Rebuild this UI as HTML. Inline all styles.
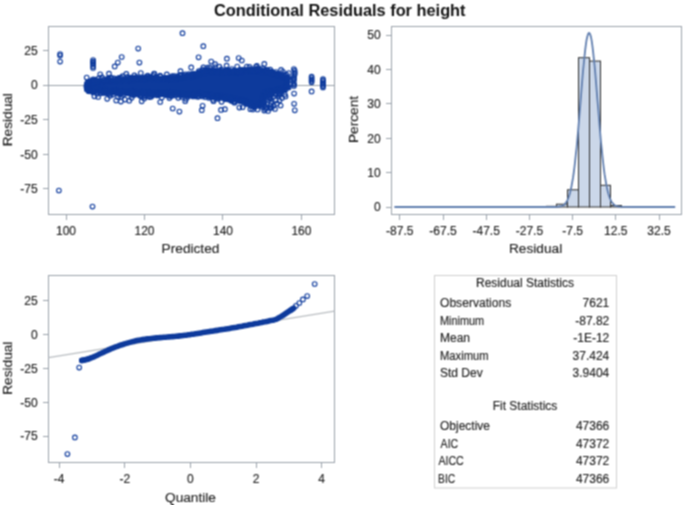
<!DOCTYPE html>
<html lang="en"><head><meta charset="utf-8"><title>Conditional Residuals for height</title>
<style>html,body{margin:0;padding:0;background:#fff}svg{display:block}text{stroke:#1c1c1c;stroke-width:.15px}</style></head>
<body>
<svg width="685" height="505" viewBox="0 0 685 505" font-family="'Liberation Sans', Arial, sans-serif" font-size="12" fill="#1c1c1c">
<defs><filter id="soft" x="0" y="0" width="685" height="505" filterUnits="userSpaceOnUse" color-interpolation-filters="sRGB"><feConvolveMatrix order="3" kernelMatrix="1 2 1 2 4 2 1 2 1" divisor="16" edgeMode="duplicate" preserveAlpha="true"/></filter></defs>
<g filter="url(#soft)">
<rect width="685" height="505" fill="#fff"/>
<text x="339.8" y="15.7" text-anchor="middle" font-size="16.35" font-weight="bold" fill="#111" style="stroke:none">Conditional Residuals for height</text>
<rect x="48.5" y="26.5" width="286.0" height="188.0" fill="#fff" stroke="#99a1aa" stroke-width="1"/>
<path d="M48.5 85.5H334.5" stroke="#99a1aa"/>
<text x="37.6" y="54.7" text-anchor="end">25</text>
<text x="37.6" y="89.3" text-anchor="end">0</text>
<text x="37.6" y="123.9" text-anchor="end">-25</text>
<text x="37.6" y="158.6" text-anchor="end">-50</text>
<text x="37.6" y="193.2" text-anchor="end">-75</text>
<path d="M48.5 50.5h-5.5M48.5 85.5h-5.5M48.5 119.5h-5.5M48.5 154.5h-5.5M48.5 188.5h-5.5" stroke="#99a1aa" fill="none"/>
<text x="66" y="234.7" text-anchor="middle">100</text>
<text x="144.5" y="234.7" text-anchor="middle">120</text>
<text x="223" y="234.7" text-anchor="middle">140</text>
<text x="301.4" y="234.7" text-anchor="middle">160</text>
<path d="M66.5 214.5v5.5M144.5 214.5v5.5M222.5 214.5v5.5M301.5 214.5v5.5" stroke="#99a1aa" fill="none"/>
<text transform="translate(11.5 119.7) rotate(-90)" text-anchor="middle" font-size="13.7" textLength="53.2" lengthAdjust="spacingAndGlyphs">Residual</text>
<text x="190.5" y="253.4" text-anchor="middle" font-size="13.7">Predicted</text>
<path d="M86.5 85.3 87.5 82.7 91 81.7 110 80.2 130 79.2 150 77.7 170 78.2 190 76.2 200 72.7 207 71.2 220 71.2 240 71.2 250 70.2 260 70.2 270 72.2 280 74.7 286 77.2 288 78 288 85.5 284 89 276 91 268 93 264 97 262.5 103 260 105.8 250 103.8 240 100.8 220 96.8 207 95.8 200 94.8 190 94.8 170 93.8 150 93.8 130 92.8 110 91.8 91 90.8 87.5 90.3 86.5 88.7Z" fill="#0d3a9c" stroke="#0d3a9c" stroke-width="2" stroke-linejoin="round"/>
<g fill="#0d3a9c" stroke="#0d3a9c" stroke-width="1.15">
<circle cx="87.9" cy="85.2" r="2.5"/>
<circle cx="87.7" cy="84" r="2.5"/>
<circle cx="87.7" cy="83.5" r="2.5"/>
<circle cx="87.5" cy="82.8" r="2.5"/>
<circle cx="89.3" cy="83.1" r="2.5"/>
<circle cx="89.8" cy="83.3" r="2.5"/>
<circle cx="90.5" cy="82.4" r="2.5"/>
<circle cx="91.6" cy="82.5" r="2.5"/>
<circle cx="93.1" cy="82.6" r="2.5"/>
<circle cx="93.6" cy="81.7" r="2.5"/>
<circle cx="94.3" cy="82.8" r="2.5"/>
<circle cx="95.7" cy="82.6" r="2.5"/>
<circle cx="96.1" cy="82.7" r="2.5"/>
<circle cx="97.5" cy="82.2" r="2.5"/>
<circle cx="98.7" cy="82.6" r="2.5"/>
<circle cx="99.6" cy="82.1" r="2.5"/>
<circle cx="100.2" cy="81.7" r="2.5"/>
<circle cx="101.3" cy="81.6" r="2.5"/>
<circle cx="102.1" cy="81.5" r="2.5"/>
<circle cx="103.3" cy="82.2" r="2.5"/>
<circle cx="105" cy="82.1" r="2.5"/>
<circle cx="106" cy="82" r="2.5"/>
<circle cx="106.7" cy="80.4" r="2.5"/>
<circle cx="107.7" cy="81.9" r="2.5"/>
<circle cx="108.8" cy="79.7" r="2.5"/>
<circle cx="109.6" cy="80.5" r="2.5"/>
<circle cx="110.4" cy="81.1" r="2.5"/>
<circle cx="111.2" cy="81" r="2.5"/>
<circle cx="112.4" cy="80.9" r="2.5"/>
<circle cx="113.6" cy="80.9" r="2.5"/>
<circle cx="114.7" cy="81.1" r="2.5"/>
<circle cx="115.2" cy="80.2" r="2.5"/>
<circle cx="116.3" cy="81.3" r="2.5"/>
<circle cx="117.1" cy="80.2" r="2.5"/>
<circle cx="118.3" cy="80.5" r="2.5"/>
<circle cx="119.3" cy="79.1" r="2.5"/>
<circle cx="120.7" cy="81.2" r="2.5"/>
<circle cx="121.9" cy="80.4" r="2.5"/>
<circle cx="123" cy="80.7" r="2.5"/>
<circle cx="123.1" cy="79.5" r="2.5"/>
<circle cx="125" cy="80.7" r="2.5"/>
<circle cx="125.3" cy="80.9" r="2.5"/>
<circle cx="126.7" cy="79.7" r="2.5"/>
<circle cx="127.4" cy="80.4" r="2.5"/>
<circle cx="128.3" cy="80.2" r="2.5"/>
<circle cx="129.9" cy="80.1" r="2.5"/>
<circle cx="130.6" cy="79.6" r="2.5"/>
<circle cx="131.8" cy="80" r="2.5"/>
<circle cx="132.5" cy="80.2" r="2.5"/>
<circle cx="133.1" cy="78.3" r="2.5"/>
<circle cx="134.7" cy="79.5" r="2.5"/>
<circle cx="135.5" cy="77.9" r="2.5"/>
<circle cx="136.4" cy="79.6" r="2.5"/>
<circle cx="137.8" cy="79.7" r="2.5"/>
<circle cx="138.6" cy="79.9" r="2.5"/>
<circle cx="140" cy="79.5" r="2.5"/>
<circle cx="141" cy="79.9" r="2.5"/>
<circle cx="141.8" cy="78.8" r="2.5"/>
<circle cx="142.2" cy="78.9" r="2.5"/>
<circle cx="143.9" cy="79.5" r="2.5"/>
<circle cx="144.7" cy="79.1" r="2.5"/>
<circle cx="145.5" cy="77.4" r="2.5"/>
<circle cx="146.3" cy="79.2" r="2.5"/>
<circle cx="147.4" cy="78.6" r="2.5"/>
<circle cx="148.4" cy="78.6" r="2.5"/>
<circle cx="149.6" cy="78.5" r="2.5"/>
<circle cx="150.3" cy="77.6" r="2.5"/>
<circle cx="151.4" cy="77.8" r="2.5"/>
<circle cx="152.5" cy="79.1" r="2.5"/>
<circle cx="153.9" cy="78.3" r="2.5"/>
<circle cx="154.6" cy="78.8" r="2.5"/>
<circle cx="155.9" cy="78.6" r="2.5"/>
<circle cx="156.9" cy="78.1" r="2.5"/>
<circle cx="157.4" cy="79.3" r="2.5"/>
<circle cx="158.9" cy="79.5" r="2.5"/>
<circle cx="159.8" cy="79.2" r="2.5"/>
<circle cx="160.7" cy="79.6" r="2.5"/>
<circle cx="161.3" cy="79.3" r="2.5"/>
<circle cx="162.2" cy="78.7" r="2.5"/>
<circle cx="163.2" cy="78.9" r="2.5"/>
<circle cx="164.8" cy="79.3" r="2.5"/>
<circle cx="165.5" cy="78.1" r="2.5"/>
<circle cx="166.6" cy="79" r="2.5"/>
<circle cx="167.9" cy="78.9" r="2.5"/>
<circle cx="168.6" cy="79.7" r="2.5"/>
<circle cx="169.2" cy="79.3" r="2.5"/>
<circle cx="170.6" cy="79.6" r="2.5"/>
<circle cx="171.8" cy="78.3" r="2.5"/>
<circle cx="172.2" cy="79" r="2.5"/>
<circle cx="174" cy="79.4" r="2.5"/>
<circle cx="174.6" cy="78.8" r="2.5"/>
<circle cx="175.2" cy="79" r="2.5"/>
<circle cx="176.2" cy="79.2" r="2.5"/>
<circle cx="177.3" cy="78.3" r="2.5"/>
<circle cx="178.7" cy="78.3" r="2.5"/>
<circle cx="179.6" cy="77.8" r="2.5"/>
<circle cx="180.8" cy="78.6" r="2.5"/>
<circle cx="181.4" cy="77.8" r="2.5"/>
<circle cx="182.6" cy="77.5" r="2.5"/>
<circle cx="183.7" cy="76.8" r="2.5"/>
<circle cx="184.3" cy="77.4" r="2.5"/>
<circle cx="185.1" cy="77.3" r="2.5"/>
<circle cx="187" cy="76.5" r="2.5"/>
<circle cx="187" cy="76.2" r="2.5"/>
<circle cx="188.4" cy="76.8" r="2.5"/>
<circle cx="189.7" cy="76.9" r="2.5"/>
<circle cx="190" cy="75.4" r="2.5"/>
<circle cx="192.1" cy="77.1" r="2.5"/>
<circle cx="193" cy="76.8" r="2.5"/>
<circle cx="192.9" cy="75.1" r="2.5"/>
<circle cx="194.4" cy="75.2" r="2.5"/>
<circle cx="195" cy="75.6" r="2.5"/>
<circle cx="196.4" cy="75.2" r="2.5"/>
<circle cx="197.4" cy="74.5" r="2.5"/>
<circle cx="198.1" cy="74" r="2.5"/>
<circle cx="199.2" cy="73.7" r="2.5"/>
<circle cx="199.5" cy="74.2" r="2.5"/>
<circle cx="200.2" cy="72.7" r="2.5"/>
<circle cx="202.3" cy="73.8" r="2.5"/>
<circle cx="202.3" cy="72.2" r="2.5"/>
<circle cx="203.8" cy="72.7" r="2.5"/>
<circle cx="204.7" cy="73.2" r="2.5"/>
<circle cx="205.7" cy="71.8" r="2.5"/>
<circle cx="206.2" cy="70.5" r="2.5"/>
<circle cx="207.5" cy="70.6" r="2.5"/>
<circle cx="208.2" cy="72" r="2.5"/>
<circle cx="209.5" cy="71.3" r="2.5"/>
<circle cx="210.8" cy="71.5" r="2.5"/>
<circle cx="211.3" cy="71.6" r="2.5"/>
<circle cx="212.8" cy="72.7" r="2.5"/>
<circle cx="213.1" cy="72.8" r="2.5"/>
<circle cx="214.1" cy="72.2" r="2.5"/>
<circle cx="215.3" cy="71.7" r="2.5"/>
<circle cx="216.8" cy="72" r="2.5"/>
<circle cx="217.2" cy="71.4" r="2.5"/>
<circle cx="218.9" cy="72.8" r="2.5"/>
<circle cx="219.7" cy="70.9" r="2.5"/>
<circle cx="220.7" cy="72.3" r="2.5"/>
<circle cx="221.8" cy="72.4" r="2.5"/>
<circle cx="222.4" cy="72.5" r="2.5"/>
<circle cx="223.5" cy="72.7" r="2.5"/>
<circle cx="224.2" cy="72.5" r="2.5"/>
<circle cx="225.5" cy="71.5" r="2.5"/>
<circle cx="226.9" cy="72.8" r="2.5"/>
<circle cx="227.2" cy="72.2" r="2.5"/>
<circle cx="228.6" cy="70.8" r="2.5"/>
<circle cx="230" cy="71.7" r="2.5"/>
<circle cx="230.8" cy="72.1" r="2.5"/>
<circle cx="231.4" cy="72.6" r="2.5"/>
<circle cx="232.2" cy="72.6" r="2.5"/>
<circle cx="233.8" cy="71.1" r="2.5"/>
<circle cx="234.4" cy="72.7" r="2.5"/>
<circle cx="235.4" cy="72.1" r="2.5"/>
<circle cx="236.8" cy="72.2" r="2.5"/>
<circle cx="237.4" cy="72.4" r="2.5"/>
<circle cx="238.7" cy="72.7" r="2.5"/>
<circle cx="239.8" cy="72.4" r="2.5"/>
<circle cx="240.5" cy="72.5" r="2.5"/>
<circle cx="241.7" cy="70.9" r="2.5"/>
<circle cx="242.2" cy="71.6" r="2.5"/>
<circle cx="243.9" cy="71.6" r="2.5"/>
<circle cx="244.1" cy="70.9" r="2.5"/>
<circle cx="246.1" cy="71.9" r="2.5"/>
<circle cx="246.7" cy="71.9" r="2.5"/>
<circle cx="247.8" cy="70.9" r="2.5"/>
<circle cx="248.9" cy="69.7" r="2.5"/>
<circle cx="249.9" cy="71.6" r="2.5"/>
<circle cx="250.5" cy="71.4" r="2.5"/>
<circle cx="251.3" cy="70.6" r="2.5"/>
<circle cx="252.7" cy="70.8" r="2.5"/>
<circle cx="253.1" cy="70.1" r="2.5"/>
<circle cx="254.9" cy="71.2" r="2.5"/>
<circle cx="255.2" cy="71.6" r="2.5"/>
<circle cx="256.2" cy="70.3" r="2.5"/>
<circle cx="257.5" cy="70.2" r="2.5"/>
<circle cx="258.2" cy="70.8" r="2.5"/>
<circle cx="259.5" cy="71.2" r="2.5"/>
<circle cx="260.4" cy="71.7" r="2.5"/>
<circle cx="261.3" cy="71.8" r="2.5"/>
<circle cx="262.2" cy="72.2" r="2.5"/>
<circle cx="263.2" cy="72.4" r="2.5"/>
<circle cx="264.9" cy="70.7" r="2.5"/>
<circle cx="264.9" cy="72.7" r="2.5"/>
<circle cx="265.9" cy="72.6" r="2.5"/>
<circle cx="267.9" cy="71.8" r="2.5"/>
<circle cx="268.8" cy="72.8" r="2.5"/>
<circle cx="269.6" cy="71.8" r="2.5"/>
<circle cx="270.7" cy="73.3" r="2.5"/>
<circle cx="271.5" cy="71.7" r="2.5"/>
<circle cx="271.9" cy="73.4" r="2.5"/>
<circle cx="273.1" cy="74.6" r="2.5"/>
<circle cx="274.7" cy="73.7" r="2.5"/>
<circle cx="275.7" cy="74" r="2.5"/>
<circle cx="276.7" cy="74.3" r="2.5"/>
<circle cx="277.5" cy="75.2" r="2.5"/>
<circle cx="277.8" cy="75.7" r="2.5"/>
<circle cx="278.9" cy="75.7" r="2.5"/>
<circle cx="280.6" cy="75" r="2.5"/>
<circle cx="281.4" cy="76.8" r="2.5"/>
<circle cx="282.3" cy="76.2" r="2.5"/>
<circle cx="283.7" cy="77" r="2.5"/>
<circle cx="284.4" cy="77.8" r="2.5"/>
<circle cx="285.6" cy="77.5" r="2.5"/>
<circle cx="286.5" cy="77.7" r="2.5"/>
<circle cx="287.2" cy="78.4" r="2.5"/>
<circle cx="287.8" cy="86.4" r="2.5"/>
<circle cx="286.3" cy="85.7" r="2.5"/>
<circle cx="285.5" cy="86.2" r="2.5"/>
<circle cx="284.7" cy="87.9" r="2.5"/>
<circle cx="283.3" cy="87.8" r="2.5"/>
<circle cx="282.8" cy="88.4" r="2.5"/>
<circle cx="282.6" cy="89.6" r="2.5"/>
<circle cx="281.4" cy="89.1" r="2.5"/>
<circle cx="280.8" cy="89.4" r="2.5"/>
<circle cx="279.3" cy="89.7" r="2.5"/>
<circle cx="278.7" cy="89.2" r="2.5"/>
<circle cx="277.1" cy="89.7" r="2.5"/>
<circle cx="276.6" cy="89.5" r="2.5"/>
<circle cx="275.7" cy="90.9" r="2.5"/>
<circle cx="274" cy="90.9" r="2.5"/>
<circle cx="273.2" cy="90.1" r="2.5"/>
<circle cx="272.2" cy="91.4" r="2.5"/>
<circle cx="270.9" cy="91.2" r="2.5"/>
<circle cx="270.2" cy="91.7" r="2.5"/>
<circle cx="269" cy="91.4" r="2.5"/>
<circle cx="268.4" cy="91.9" r="2.5"/>
<circle cx="267.1" cy="92.6" r="2.5"/>
<circle cx="266.8" cy="93.6" r="2.5"/>
<circle cx="265.1" cy="93.7" r="2.5"/>
<circle cx="265.3" cy="94.8" r="2.5"/>
<circle cx="265.3" cy="96.1" r="2.5"/>
<circle cx="263.9" cy="96.6" r="2.5"/>
<circle cx="262.3" cy="97.3" r="2.5"/>
<circle cx="263.6" cy="98.9" r="2.5"/>
<circle cx="262.6" cy="99.4" r="2.5"/>
<circle cx="261.9" cy="100.4" r="2.5"/>
<circle cx="262.1" cy="101.2" r="2.5"/>
<circle cx="261.9" cy="102.1" r="2.5"/>
<circle cx="261.8" cy="102.9" r="2.5"/>
<circle cx="261.9" cy="104.3" r="2.5"/>
<circle cx="260" cy="104" r="2.5"/>
<circle cx="258.9" cy="104.7" r="2.5"/>
<circle cx="260" cy="104.2" r="2.5"/>
<circle cx="258.6" cy="105.1" r="2.5"/>
<circle cx="258" cy="104.9" r="2.5"/>
<circle cx="257" cy="104.4" r="2.5"/>
<circle cx="255.3" cy="104.3" r="2.5"/>
<circle cx="254.8" cy="103.5" r="2.5"/>
<circle cx="253.2" cy="106" r="2.5"/>
<circle cx="252.5" cy="103.9" r="2.5"/>
<circle cx="251.8" cy="103.7" r="2.5"/>
<circle cx="250.2" cy="103.9" r="2.5"/>
<circle cx="249.3" cy="103.5" r="2.5"/>
<circle cx="248.9" cy="102.3" r="2.5"/>
<circle cx="247.2" cy="103.5" r="2.5"/>
<circle cx="246.8" cy="101.2" r="2.5"/>
<circle cx="245.8" cy="101" r="2.5"/>
<circle cx="245" cy="100.7" r="2.5"/>
<circle cx="243.4" cy="101.6" r="2.5"/>
<circle cx="242.5" cy="100" r="2.5"/>
<circle cx="242.1" cy="99.8" r="2.5"/>
<circle cx="241.2" cy="100.3" r="2.5"/>
<circle cx="239.3" cy="100.2" r="2.5"/>
<circle cx="239.1" cy="99.1" r="2.5"/>
<circle cx="238" cy="99" r="2.5"/>
<circle cx="236.6" cy="99.6" r="2.5"/>
<circle cx="235.5" cy="98.9" r="2.5"/>
<circle cx="234.5" cy="98.1" r="2.5"/>
<circle cx="234" cy="98" r="2.5"/>
<circle cx="232.7" cy="98.4" r="2.5"/>
<circle cx="231.7" cy="99.8" r="2.5"/>
<circle cx="230.6" cy="97.5" r="2.5"/>
<circle cx="230.1" cy="97.7" r="2.5"/>
<circle cx="228.8" cy="98" r="2.5"/>
<circle cx="228.2" cy="97.4" r="2.5"/>
<circle cx="226.9" cy="97.9" r="2.5"/>
<circle cx="226.3" cy="96.6" r="2.5"/>
<circle cx="224.9" cy="96.7" r="2.5"/>
<circle cx="223.8" cy="97.8" r="2.5"/>
<circle cx="222.9" cy="96" r="2.5"/>
<circle cx="221.4" cy="95.9" r="2.5"/>
<circle cx="220.3" cy="95.5" r="2.5"/>
<circle cx="219.4" cy="95.6" r="2.5"/>
<circle cx="218.3" cy="96.7" r="2.5"/>
<circle cx="217.3" cy="96.3" r="2.5"/>
<circle cx="216.1" cy="95.2" r="2.5"/>
<circle cx="215.9" cy="95.9" r="2.5"/>
<circle cx="214.9" cy="97.6" r="2.5"/>
<circle cx="213.1" cy="96.3" r="2.5"/>
<circle cx="212.5" cy="95.3" r="2.5"/>
<circle cx="211.4" cy="94.9" r="2.5"/>
<circle cx="210" cy="96.4" r="2.5"/>
<circle cx="209.8" cy="94.5" r="2.5"/>
<circle cx="209" cy="95.7" r="2.5"/>
<circle cx="207.4" cy="94.7" r="2.5"/>
<circle cx="206.4" cy="94.2" r="2.5"/>
<circle cx="205.8" cy="94.9" r="2.5"/>
<circle cx="205" cy="94.7" r="2.5"/>
<circle cx="203.8" cy="94.9" r="2.5"/>
<circle cx="202.3" cy="93.8" r="2.5"/>
<circle cx="201.2" cy="94.5" r="2.5"/>
<circle cx="200.3" cy="93.9" r="2.5"/>
<circle cx="200" cy="93.5" r="2.5"/>
<circle cx="198.8" cy="93.6" r="2.5"/>
<circle cx="197.2" cy="94.2" r="2.5"/>
<circle cx="196.8" cy="93.6" r="2.5"/>
<circle cx="195.1" cy="93.6" r="2.5"/>
<circle cx="194.3" cy="93.2" r="2.5"/>
<circle cx="193.2" cy="96.2" r="2.5"/>
<circle cx="192.5" cy="93.8" r="2.5"/>
<circle cx="191.4" cy="95.1" r="2.5"/>
<circle cx="190.9" cy="93.5" r="2.5"/>
<circle cx="189.3" cy="94" r="2.5"/>
<circle cx="188.8" cy="93.2" r="2.5"/>
<circle cx="187.5" cy="95.2" r="2.5"/>
<circle cx="186.8" cy="93.1" r="2.5"/>
<circle cx="185.4" cy="94.4" r="2.5"/>
<circle cx="184.6" cy="94.5" r="2.5"/>
<circle cx="183.4" cy="93.1" r="2.5"/>
<circle cx="183" cy="93.7" r="2.5"/>
<circle cx="181.3" cy="94.4" r="2.5"/>
<circle cx="180.3" cy="93.1" r="2.5"/>
<circle cx="179.5" cy="94.4" r="2.5"/>
<circle cx="178.6" cy="93.2" r="2.5"/>
<circle cx="177.7" cy="93.1" r="2.5"/>
<circle cx="176.8" cy="92.8" r="2.5"/>
<circle cx="175.9" cy="93.5" r="2.5"/>
<circle cx="174.6" cy="92.7" r="2.5"/>
<circle cx="173.3" cy="93.1" r="2.5"/>
<circle cx="172.8" cy="93.4" r="2.5"/>
<circle cx="171.6" cy="92.7" r="2.5"/>
<circle cx="170.9" cy="92.5" r="2.5"/>
<circle cx="169.5" cy="92.9" r="2.5"/>
<circle cx="168.9" cy="93.5" r="2.5"/>
<circle cx="167.1" cy="94.4" r="2.5"/>
<circle cx="167" cy="92.4" r="2.5"/>
<circle cx="165.6" cy="92.3" r="2.5"/>
<circle cx="164.9" cy="92.3" r="2.5"/>
<circle cx="163.2" cy="93.1" r="2.5"/>
<circle cx="162.5" cy="93.8" r="2.5"/>
<circle cx="161.7" cy="93" r="2.5"/>
<circle cx="160.6" cy="92.4" r="2.5"/>
<circle cx="159.9" cy="92.6" r="2.5"/>
<circle cx="158" cy="93.2" r="2.5"/>
<circle cx="157.4" cy="93.3" r="2.5"/>
<circle cx="156.4" cy="92.2" r="2.5"/>
<circle cx="155.4" cy="92.6" r="2.5"/>
<circle cx="154.4" cy="93" r="2.5"/>
<circle cx="153.4" cy="93.3" r="2.5"/>
<circle cx="152.8" cy="95" r="2.5"/>
<circle cx="151.2" cy="92.3" r="2.5"/>
<circle cx="150.5" cy="94.5" r="2.5"/>
<circle cx="149.7" cy="92.6" r="2.5"/>
<circle cx="148.7" cy="92.7" r="2.5"/>
<circle cx="147.4" cy="92.6" r="2.5"/>
<circle cx="146.9" cy="93.9" r="2.5"/>
<circle cx="145.1" cy="92.7" r="2.5"/>
<circle cx="144.8" cy="92.7" r="2.5"/>
<circle cx="143.2" cy="92.1" r="2.5"/>
<circle cx="143" cy="92.6" r="2.5"/>
<circle cx="141.8" cy="93.6" r="2.5"/>
<circle cx="140.1" cy="92.5" r="2.5"/>
<circle cx="139.9" cy="92.4" r="2.5"/>
<circle cx="138.4" cy="94.2" r="2.5"/>
<circle cx="137.6" cy="91.9" r="2.5"/>
<circle cx="136.6" cy="93.7" r="2.5"/>
<circle cx="135.2" cy="93.4" r="2.5"/>
<circle cx="134.2" cy="92.7" r="2.5"/>
<circle cx="133.3" cy="91.5" r="2.5"/>
<circle cx="132.2" cy="91.7" r="2.5"/>
<circle cx="131.6" cy="91.6" r="2.5"/>
<circle cx="130.6" cy="91.6" r="2.5"/>
<circle cx="129.9" cy="91.8" r="2.5"/>
<circle cx="128.9" cy="93" r="2.5"/>
<circle cx="127.8" cy="93.1" r="2.5"/>
<circle cx="126.7" cy="92.5" r="2.5"/>
<circle cx="125.8" cy="91.7" r="2.5"/>
<circle cx="124.7" cy="91" r="2.5"/>
<circle cx="123.8" cy="91.2" r="2.5"/>
<circle cx="122.3" cy="91.3" r="2.5"/>
<circle cx="121.1" cy="91.9" r="2.5"/>
<circle cx="120.6" cy="93.2" r="2.5"/>
<circle cx="119.8" cy="91" r="2.5"/>
<circle cx="118.6" cy="91.4" r="2.5"/>
<circle cx="117.1" cy="90.8" r="2.5"/>
<circle cx="116.4" cy="90.8" r="2.5"/>
<circle cx="115.9" cy="92.2" r="2.5"/>
<circle cx="114.4" cy="90.5" r="2.5"/>
<circle cx="113.1" cy="92" r="2.5"/>
<circle cx="113" cy="91.1" r="2.5"/>
<circle cx="111.1" cy="91" r="2.5"/>
<circle cx="110.1" cy="91.7" r="2.5"/>
<circle cx="110" cy="91" r="2.5"/>
<circle cx="108.6" cy="90.9" r="2.5"/>
<circle cx="107.3" cy="91.1" r="2.5"/>
<circle cx="106.1" cy="90.4" r="2.5"/>
<circle cx="105.2" cy="90.7" r="2.5"/>
<circle cx="104.3" cy="90.2" r="2.5"/>
<circle cx="103.1" cy="90.1" r="2.5"/>
<circle cx="102.6" cy="90.6" r="2.5"/>
<circle cx="101.1" cy="91.1" r="2.5"/>
<circle cx="100.1" cy="90.4" r="2.5"/>
<circle cx="99.7" cy="89.7" r="2.5"/>
<circle cx="98.6" cy="90.4" r="2.5"/>
<circle cx="97.7" cy="89.9" r="2.5"/>
<circle cx="96.9" cy="90.2" r="2.5"/>
<circle cx="95.3" cy="90.8" r="2.5"/>
<circle cx="94.4" cy="89.8" r="2.5"/>
<circle cx="93.8" cy="90.9" r="2.5"/>
<circle cx="92.8" cy="89.6" r="2.5"/>
<circle cx="91.2" cy="90.7" r="2.5"/>
<circle cx="90.9" cy="89.3" r="2.5"/>
<circle cx="89.9" cy="90.9" r="2.5"/>
<circle cx="88.9" cy="89" r="2.5"/>
<circle cx="88.3" cy="88.9" r="2.5"/>
<circle cx="88.3" cy="89.7" r="2.5"/>
<circle cx="88" cy="88.2" r="2.5"/>
</g>
<g fill="none" stroke="#0d3a9c" stroke-width="1.1">
<circle cx="86.7" cy="77.6" r="2.3"/>
<circle cx="90.1" cy="81.4" r="2.3"/>
<circle cx="92.1" cy="80.4" r="2.3"/>
<circle cx="94.4" cy="80.9" r="2.3"/>
<circle cx="94.8" cy="79.7" r="2.3"/>
<circle cx="97.9" cy="80.6" r="2.3"/>
<circle cx="98.7" cy="78.4" r="2.3"/>
<circle cx="101.3" cy="81.1" r="2.3"/>
<circle cx="102" cy="77.4" r="2.3"/>
<circle cx="104.2" cy="79.4" r="2.3"/>
<circle cx="105.4" cy="80.9" r="2.3"/>
<circle cx="106.5" cy="79.6" r="2.3"/>
<circle cx="108.2" cy="78.3" r="2.3"/>
<circle cx="110.5" cy="77.5" r="2.3"/>
<circle cx="111.8" cy="78.1" r="2.3"/>
<circle cx="114.3" cy="78.4" r="2.3"/>
<circle cx="116.8" cy="80" r="2.3"/>
<circle cx="117.7" cy="78.6" r="2.3"/>
<circle cx="120.7" cy="80" r="2.3"/>
<circle cx="121" cy="77.5" r="2.3"/>
<circle cx="122.6" cy="76.2" r="2.3"/>
<circle cx="124.6" cy="79.9" r="2.3"/>
<circle cx="127.4" cy="76.9" r="2.3"/>
<circle cx="128.4" cy="78" r="2.3"/>
<circle cx="130.5" cy="77.7" r="2.3"/>
<circle cx="131.9" cy="77.9" r="2.3"/>
<circle cx="134.9" cy="79" r="2.3"/>
<circle cx="136.5" cy="77.2" r="2.3"/>
<circle cx="137.7" cy="78.1" r="2.3"/>
<circle cx="140.8" cy="77.9" r="2.3"/>
<circle cx="142.1" cy="78.2" r="2.3"/>
<circle cx="142.8" cy="78.5" r="2.3"/>
<circle cx="144.7" cy="78.6" r="2.3"/>
<circle cx="147.5" cy="76.3" r="2.3"/>
<circle cx="149.5" cy="76.8" r="2.3"/>
<circle cx="150.3" cy="77.8" r="2.3"/>
<circle cx="153.4" cy="75.8" r="2.3"/>
<circle cx="154.2" cy="73.9" r="2.3"/>
<circle cx="156.2" cy="76.7" r="2.3"/>
<circle cx="158.2" cy="78.2" r="2.3"/>
<circle cx="160" cy="75.5" r="2.3"/>
<circle cx="162.2" cy="78.4" r="2.3"/>
<circle cx="164.3" cy="78.1" r="2.3"/>
<circle cx="165.1" cy="78" r="2.3"/>
<circle cx="168.1" cy="78.6" r="2.3"/>
<circle cx="168.4" cy="77.5" r="2.3"/>
<circle cx="171.7" cy="76.5" r="2.3"/>
<circle cx="171.9" cy="78.2" r="2.3"/>
<circle cx="174.4" cy="76" r="2.3"/>
<circle cx="177.1" cy="76.4" r="2.3"/>
<circle cx="177.5" cy="77.3" r="2.3"/>
<circle cx="179.6" cy="75.1" r="2.3"/>
<circle cx="181.8" cy="74.9" r="2.3"/>
<circle cx="183.6" cy="74.9" r="2.3"/>
<circle cx="186.1" cy="76.9" r="2.3"/>
<circle cx="187.6" cy="76.1" r="2.3"/>
<circle cx="188.8" cy="74.2" r="2.3"/>
<circle cx="190.8" cy="75.5" r="2.3"/>
<circle cx="192.1" cy="74.5" r="2.3"/>
<circle cx="193.6" cy="75.4" r="2.3"/>
<circle cx="194.8" cy="73.9" r="2.3"/>
<circle cx="197.4" cy="74.1" r="2.3"/>
<circle cx="198.7" cy="72.7" r="2.3"/>
<circle cx="200.3" cy="72.7" r="2.3"/>
<circle cx="203" cy="69.9" r="2.3"/>
<circle cx="203.4" cy="67.4" r="2.3"/>
<circle cx="205.5" cy="70.2" r="2.3"/>
<circle cx="207.5" cy="67.6" r="2.3"/>
<circle cx="209.5" cy="67.4" r="2.3"/>
<circle cx="212.4" cy="70.2" r="2.3"/>
<circle cx="214.1" cy="70.1" r="2.3"/>
<circle cx="215.1" cy="70.7" r="2.3"/>
<circle cx="216.4" cy="71.5" r="2.3"/>
<circle cx="219.3" cy="66.7" r="2.3"/>
<circle cx="221.2" cy="69.4" r="2.3"/>
<circle cx="223.6" cy="71.2" r="2.3"/>
<circle cx="225.1" cy="70.9" r="2.3"/>
<circle cx="227.2" cy="69.7" r="2.3"/>
<circle cx="228.9" cy="71.6" r="2.3"/>
<circle cx="230.2" cy="71.4" r="2.3"/>
<circle cx="231.3" cy="71.4" r="2.3"/>
<circle cx="233.3" cy="71.7" r="2.3"/>
<circle cx="234.8" cy="70.4" r="2.3"/>
<circle cx="238" cy="70.9" r="2.3"/>
<circle cx="238.2" cy="71.3" r="2.3"/>
<circle cx="240.1" cy="69.7" r="2.3"/>
<circle cx="242.6" cy="70.6" r="2.3"/>
<circle cx="243.9" cy="69.5" r="2.3"/>
<circle cx="246.1" cy="70.2" r="2.3"/>
<circle cx="246.9" cy="66.5" r="2.3"/>
<circle cx="249.5" cy="66.8" r="2.3"/>
<circle cx="251.2" cy="69.2" r="2.3"/>
<circle cx="253.2" cy="69.7" r="2.3"/>
<circle cx="254.2" cy="70.6" r="2.3"/>
<circle cx="256.1" cy="66.7" r="2.3"/>
<circle cx="256.9" cy="65.8" r="2.3"/>
<circle cx="258.4" cy="69.1" r="2.3"/>
<circle cx="261.6" cy="70.5" r="2.3"/>
<circle cx="262.5" cy="68" r="2.3"/>
<circle cx="263.8" cy="69.1" r="2.3"/>
<circle cx="266.3" cy="69.8" r="2.3"/>
<circle cx="267.2" cy="69.8" r="2.3"/>
<circle cx="270.2" cy="69.7" r="2.3"/>
<circle cx="270.3" cy="72.1" r="2.3"/>
<circle cx="272.9" cy="72.2" r="2.3"/>
<circle cx="274.8" cy="73.5" r="2.3"/>
<circle cx="276.2" cy="72.1" r="2.3"/>
<circle cx="277.6" cy="74.1" r="2.3"/>
<circle cx="279.5" cy="75" r="2.3"/>
<circle cx="283" cy="71.8" r="2.3"/>
<circle cx="282.7" cy="74.3" r="2.3"/>
<circle cx="284.6" cy="75.3" r="2.3"/>
<circle cx="286.4" cy="74.6" r="2.3"/>
<circle cx="288.8" cy="73.1" r="2.3"/>
<circle cx="288.7" cy="87.5" r="2.3"/>
<circle cx="286.5" cy="87.3" r="2.3"/>
<circle cx="285.8" cy="89.2" r="2.3"/>
<circle cx="283.7" cy="90.6" r="2.3"/>
<circle cx="281" cy="90.1" r="2.3"/>
<circle cx="279.9" cy="93" r="2.3"/>
<circle cx="280.2" cy="94.5" r="2.3"/>
<circle cx="277.7" cy="91.5" r="2.3"/>
<circle cx="276.6" cy="94.6" r="2.3"/>
<circle cx="274.4" cy="93.5" r="2.3"/>
<circle cx="272" cy="94.1" r="2.3"/>
<circle cx="271.1" cy="93.9" r="2.3"/>
<circle cx="270.3" cy="95.5" r="2.3"/>
<circle cx="270.1" cy="97.7" r="2.3"/>
<circle cx="265.6" cy="95.6" r="2.3"/>
<circle cx="264.8" cy="96" r="2.3"/>
<circle cx="263.8" cy="97.6" r="2.3"/>
<circle cx="267.5" cy="100.2" r="2.3"/>
<circle cx="263.7" cy="102.8" r="2.3"/>
<circle cx="262.3" cy="103.2" r="2.3"/>
<circle cx="261.6" cy="105.4" r="2.3"/>
<circle cx="258.7" cy="105.8" r="2.3"/>
<circle cx="257.5" cy="109.4" r="2.3"/>
<circle cx="254.5" cy="107.5" r="2.3"/>
<circle cx="252.7" cy="109.5" r="2.3"/>
<circle cx="251.5" cy="106.2" r="2.3"/>
<circle cx="250.2" cy="103.8" r="2.3"/>
<circle cx="248.6" cy="103.3" r="2.3"/>
<circle cx="246.8" cy="104" r="2.3"/>
<circle cx="246.1" cy="103.1" r="2.3"/>
<circle cx="244.1" cy="101.6" r="2.3"/>
<circle cx="241.8" cy="101.2" r="2.3"/>
<circle cx="241.3" cy="101.5" r="2.3"/>
<circle cx="238.5" cy="100.8" r="2.3"/>
<circle cx="237.3" cy="100" r="2.3"/>
<circle cx="234.9" cy="101" r="2.3"/>
<circle cx="233.9" cy="102.1" r="2.3"/>
<circle cx="230.9" cy="100.2" r="2.3"/>
<circle cx="230.6" cy="99.9" r="2.3"/>
<circle cx="228.2" cy="99.5" r="2.3"/>
<circle cx="226" cy="99.2" r="2.3"/>
<circle cx="224.6" cy="98.9" r="2.3"/>
<circle cx="222.6" cy="96.9" r="2.3"/>
<circle cx="220.4" cy="97.8" r="2.3"/>
<circle cx="218.4" cy="97.9" r="2.3"/>
<circle cx="216.3" cy="96.7" r="2.3"/>
<circle cx="216" cy="97.1" r="2.3"/>
<circle cx="213.5" cy="101.2" r="2.3"/>
<circle cx="211.5" cy="95.9" r="2.3"/>
<circle cx="210.5" cy="96.9" r="2.3"/>
<circle cx="208.6" cy="97.8" r="2.3"/>
<circle cx="205.2" cy="97.1" r="2.3"/>
<circle cx="205.1" cy="95.2" r="2.3"/>
<circle cx="202.5" cy="96.5" r="2.3"/>
<circle cx="201.1" cy="94.8" r="2.3"/>
<circle cx="198.5" cy="96.6" r="2.3"/>
<circle cx="198.1" cy="96.1" r="2.3"/>
<circle cx="195.8" cy="96.3" r="2.3"/>
<circle cx="194.9" cy="94.4" r="2.3"/>
<circle cx="191.8" cy="95.1" r="2.3"/>
<circle cx="191.2" cy="95.4" r="2.3"/>
<circle cx="189.4" cy="94.8" r="2.3"/>
<circle cx="187.9" cy="96.7" r="2.3"/>
<circle cx="186" cy="98.9" r="2.3"/>
<circle cx="184" cy="94.5" r="2.3"/>
<circle cx="181" cy="95.6" r="2.3"/>
<circle cx="180.5" cy="93.8" r="2.3"/>
<circle cx="178.2" cy="97.8" r="2.3"/>
<circle cx="175.8" cy="95.5" r="2.3"/>
<circle cx="174.2" cy="94" r="2.3"/>
<circle cx="171.8" cy="95.4" r="2.3"/>
<circle cx="170.2" cy="95.3" r="2.3"/>
<circle cx="169.3" cy="95.8" r="2.3"/>
<circle cx="166.9" cy="93.6" r="2.3"/>
<circle cx="165.7" cy="95.1" r="2.3"/>
<circle cx="163.5" cy="93.8" r="2.3"/>
<circle cx="161" cy="94.1" r="2.3"/>
<circle cx="159.1" cy="94.6" r="2.3"/>
<circle cx="158.4" cy="95.3" r="2.3"/>
<circle cx="157" cy="95.3" r="2.3"/>
<circle cx="155.1" cy="93.5" r="2.3"/>
<circle cx="152" cy="95.1" r="2.3"/>
<circle cx="150.6" cy="93.8" r="2.3"/>
<circle cx="149.7" cy="97.1" r="2.3"/>
<circle cx="147.1" cy="96.5" r="2.3"/>
<circle cx="145" cy="96.3" r="2.3"/>
<circle cx="144.3" cy="95.9" r="2.3"/>
<circle cx="141" cy="96.2" r="2.3"/>
<circle cx="139.8" cy="95.6" r="2.3"/>
<circle cx="137.3" cy="94.2" r="2.3"/>
<circle cx="136.5" cy="93.3" r="2.3"/>
<circle cx="134" cy="95.1" r="2.3"/>
<circle cx="132.2" cy="95" r="2.3"/>
<circle cx="131.6" cy="93.8" r="2.3"/>
<circle cx="128.2" cy="92.5" r="2.3"/>
<circle cx="126.8" cy="93" r="2.3"/>
<circle cx="125.5" cy="92.9" r="2.3"/>
<circle cx="123.3" cy="95.1" r="2.3"/>
<circle cx="121.5" cy="92.4" r="2.3"/>
<circle cx="119.5" cy="94.1" r="2.3"/>
<circle cx="118.1" cy="97.1" r="2.3"/>
<circle cx="116.4" cy="92.6" r="2.3"/>
<circle cx="115" cy="92" r="2.3"/>
<circle cx="112.8" cy="92.5" r="2.3"/>
<circle cx="110.1" cy="95.8" r="2.3"/>
<circle cx="109.3" cy="94" r="2.3"/>
<circle cx="106.7" cy="92.1" r="2.3"/>
<circle cx="105.5" cy="92.8" r="2.3"/>
<circle cx="103.6" cy="93" r="2.3"/>
<circle cx="102.8" cy="92.6" r="2.3"/>
<circle cx="100.2" cy="91.5" r="2.3"/>
<circle cx="98.2" cy="96.9" r="2.3"/>
<circle cx="97.2" cy="93.7" r="2.3"/>
<circle cx="95.7" cy="90.8" r="2.3"/>
<circle cx="93.2" cy="92.4" r="2.3"/>
<circle cx="92.6" cy="91.1" r="2.3"/>
<circle cx="89.5" cy="91.3" r="2.3"/>
<circle cx="88.6" cy="91.2" r="2.3"/>
<circle cx="86.7" cy="84.5" r="2.3"/>
<circle cx="86.4" cy="86.2" r="2.3"/>
<circle cx="86.6" cy="87.8" r="2.3"/>
<circle cx="86.8" cy="89.5" r="2.3"/>
<circle cx="288.4" cy="78" r="2.3"/>
<circle cx="287.4" cy="79.5" r="2.3"/>
<circle cx="287.6" cy="81" r="2.3"/>
<circle cx="287.4" cy="82.5" r="2.3"/>
<circle cx="289.3" cy="84" r="2.3"/>
<circle cx="93.1" cy="79.3" r="2.3"/>
<circle cx="100.2" cy="74.3" r="2.3"/>
<circle cx="109" cy="73.7" r="2.3"/>
<circle cx="110.2" cy="77.5" r="2.3"/>
<circle cx="119.1" cy="77.8" r="2.3"/>
<circle cx="126.3" cy="73.9" r="2.3"/>
<circle cx="134.4" cy="75.4" r="2.3"/>
<circle cx="140.8" cy="73.1" r="2.3"/>
<circle cx="147.7" cy="75.6" r="2.3"/>
<circle cx="154.2" cy="73.7" r="2.3"/>
<circle cx="160.5" cy="76.4" r="2.3"/>
<circle cx="166.8" cy="74.4" r="2.3"/>
<circle cx="172.4" cy="76.1" r="2.3"/>
<circle cx="180.5" cy="71.2" r="2.3"/>
<circle cx="185.5" cy="74.3" r="2.3"/>
<circle cx="192.6" cy="73.6" r="2.3"/>
<circle cx="198.9" cy="71.2" r="2.3"/>
<circle cx="202.1" cy="70" r="2.3"/>
<circle cx="207.8" cy="69.3" r="2.3"/>
<circle cx="215.3" cy="67" r="2.3"/>
<circle cx="226.6" cy="65.7" r="2.3"/>
<circle cx="231.9" cy="69" r="2.3"/>
<circle cx="237.2" cy="66.5" r="2.3"/>
<circle cx="241.8" cy="60.5" r="2.3"/>
<circle cx="257.5" cy="68.4" r="2.3"/>
<circle cx="264.3" cy="63.9" r="2.3"/>
<circle cx="281.1" cy="69.9" r="2.3"/>
<circle cx="239.4" cy="107.6" r="2.3"/>
<circle cx="234.5" cy="102.7" r="2.3"/>
<circle cx="231.5" cy="101" r="2.3"/>
<circle cx="221.6" cy="101.8" r="2.3"/>
<circle cx="217.9" cy="98.8" r="2.3"/>
<circle cx="213.1" cy="99.7" r="2.3"/>
<circle cx="201.8" cy="110.2" r="2.3"/>
<circle cx="197.7" cy="96.7" r="2.3"/>
<circle cx="185.2" cy="101.2" r="2.3"/>
<circle cx="181.9" cy="97" r="2.3"/>
<circle cx="171.6" cy="96" r="2.3"/>
<circle cx="169.4" cy="98.1" r="2.3"/>
<circle cx="161.8" cy="97.6" r="2.3"/>
<circle cx="151.2" cy="96.7" r="2.3"/>
<circle cx="144.2" cy="98.4" r="2.3"/>
<circle cx="141.7" cy="101.3" r="2.3"/>
<circle cx="131.6" cy="97.8" r="2.3"/>
<circle cx="125" cy="99.6" r="2.3"/>
<circle cx="121.1" cy="96.9" r="2.3"/>
<circle cx="113.1" cy="94.6" r="2.3"/>
<circle cx="107.8" cy="93.5" r="2.3"/>
<circle cx="100.4" cy="93.3" r="2.3"/>
<circle cx="94.4" cy="96.3" r="2.3"/>
<circle cx="265.4" cy="91.6" r="2.3"/>
<circle cx="263.3" cy="93.7" r="2.3"/>
<circle cx="261.9" cy="97.8" r="2.3"/>
<circle cx="264" cy="100" r="2.3"/>
<circle cx="263.3" cy="103.4" r="2.3"/>
<circle cx="262.6" cy="106.9" r="2.3"/>
<circle cx="265.4" cy="109" r="2.3"/>
<circle cx="268.1" cy="111" r="2.3"/>
<circle cx="271.6" cy="107.6" r="2.3"/>
<circle cx="275" cy="109" r="2.3"/>
<circle cx="275.8" cy="100.6" r="2.3"/>
<circle cx="280.6" cy="105.5" r="2.3"/>
<circle cx="278.5" cy="95.8" r="2.3"/>
<circle cx="282" cy="91.6" r="2.3"/>
<circle cx="284.8" cy="94.4" r="2.3"/>
<circle cx="285.5" cy="96.5" r="2.3"/>
<circle cx="286.9" cy="87.4" r="2.3"/>
<circle cx="270.2" cy="105.5" r="2.3"/>
<circle cx="271.6" cy="101.3" r="2.3"/>
<circle cx="268.8" cy="97.8" r="2.3"/>
<circle cx="266.5" cy="99" r="2.3"/>
<circle cx="270.5" cy="98.5" r="2.3"/>
<circle cx="271.2" cy="103.5" r="2.3"/>
<circle cx="269.5" cy="107.5" r="2.3"/>
<circle cx="266" cy="107.5" r="2.3"/>
<circle cx="264.5" cy="105.2" r="2.3"/>
<circle cx="273.5" cy="105.8" r="2.3"/>
<circle cx="277" cy="103.5" r="2.3"/>
<circle cx="279.5" cy="100.5" r="2.3"/>
<circle cx="282" cy="98" r="2.3"/>
<circle cx="273" cy="96.5" r="2.3"/>
<circle cx="276" cy="93.5" r="2.3"/>
<circle cx="280" cy="93" r="2.3"/>
<circle cx="267" cy="94.5" r="2.3"/>
<circle cx="270" cy="93" r="2.3"/>
<circle cx="182.5" cy="33.2" r="2.3"/>
<circle cx="138.2" cy="48.6" r="2.3"/>
<circle cx="121.7" cy="57" r="2.3"/>
<circle cx="117.8" cy="62.6" r="2.3"/>
<circle cx="114.7" cy="66.4" r="2.3"/>
<circle cx="139.4" cy="62.6" r="2.3"/>
<circle cx="203.3" cy="46.2" r="2.3"/>
<circle cx="198.6" cy="57.3" r="2.3"/>
<circle cx="191.2" cy="67.4" r="2.3"/>
<circle cx="172.7" cy="108.5" r="2.3"/>
<circle cx="179.4" cy="111.6" r="2.3"/>
<circle cx="160.2" cy="102" r="2.3"/>
<circle cx="129.2" cy="100.7" r="2.3"/>
<circle cx="120.9" cy="101.6" r="2.3"/>
<circle cx="116.2" cy="100.5" r="2.3"/>
<circle cx="107.2" cy="98.8" r="2.3"/>
<circle cx="58.9" cy="190.5" r="2.3"/>
<circle cx="92.5" cy="206.6" r="2.3"/>
<circle cx="60.1" cy="54" r="2.3"/>
<circle cx="60.1" cy="55.6" r="2.3"/>
<circle cx="60.1" cy="61.6" r="2.3"/>
<circle cx="93.1" cy="60.1" r="2.3"/>
<circle cx="93.1" cy="61.5" r="2.3"/>
<circle cx="93.1" cy="62.8" r="2.3"/>
<circle cx="93.1" cy="64.2" r="2.3"/>
<circle cx="93.1" cy="66.3" r="2.3"/>
<circle cx="93.1" cy="68" r="2.3"/>
<circle cx="217.5" cy="118.2" r="2.3"/>
<circle cx="221" cy="109.9" r="2.3"/>
<circle cx="224.9" cy="109.2" r="2.3"/>
<circle cx="202.6" cy="105.8" r="2.3"/>
<circle cx="226.9" cy="58.7" r="2.3"/>
<circle cx="238.7" cy="58" r="2.3"/>
<circle cx="211.2" cy="61.5" r="2.3"/>
<circle cx="215.1" cy="64.2" r="2.3"/>
<circle cx="242.6" cy="107.2" r="2.3"/>
<circle cx="250.4" cy="109.2" r="2.3"/>
<circle cx="264.2" cy="110.6" r="2.3"/>
<circle cx="270" cy="107.9" r="2.3"/>
<circle cx="293.9" cy="69.1" r="2.3"/>
<circle cx="294.6" cy="70.7" r="2.3"/>
<circle cx="294.7" cy="72.5" r="2.3"/>
<circle cx="294.7" cy="74.2" r="2.3"/>
<circle cx="294.2" cy="76" r="2.3"/>
<circle cx="293.8" cy="77.8" r="2.3"/>
<circle cx="294.1" cy="79.5" r="2.3"/>
<circle cx="293.5" cy="81.1" r="2.3"/>
<circle cx="293.6" cy="82.9" r="2.3"/>
<circle cx="294.2" cy="84.6" r="2.3"/>
<circle cx="293.9" cy="86" r="2.3"/>
<circle cx="294.1" cy="93.6" r="2.3"/>
<circle cx="294.1" cy="103.8" r="2.3"/>
<circle cx="294.8" cy="110.3" r="2.3"/>
<circle cx="311.6" cy="76.7" r="2.3"/>
<circle cx="311.6" cy="78.1" r="2.3"/>
<circle cx="311.6" cy="79.5" r="2.3"/>
<circle cx="311.6" cy="80.8" r="2.3"/>
<circle cx="311.6" cy="82.2" r="2.3"/>
<circle cx="311.6" cy="91.4" r="2.3"/>
<circle cx="323" cy="79.2" r="2.3"/>
<circle cx="323" cy="80.6" r="2.3"/>
<circle cx="323" cy="82" r="2.3"/>
<circle cx="323" cy="83.3" r="2.3"/>
<circle cx="323" cy="84.7" r="2.3"/>
<circle cx="323" cy="86.1" r="2.3"/>
<circle cx="323" cy="87.4" r="2.3"/>
</g>
<rect x="391.5" y="26.5" width="290.0" height="188.0" fill="#fff" stroke="#99a1aa" stroke-width="1"/>
<text x="380.6" y="39.3" text-anchor="end">50</text>
<text x="380.6" y="73.7" text-anchor="end">40</text>
<text x="380.6" y="108.1" text-anchor="end">30</text>
<text x="380.6" y="142.5" text-anchor="end">20</text>
<text x="380.6" y="176.9" text-anchor="end">10</text>
<text x="380.6" y="211.3" text-anchor="end">0</text>
<path d="M391.5 35.5h-5.5M391.5 69.5h-5.5M391.5 103.5h-5.5M391.5 138.5h-5.5M391.5 172.5h-5.5M391.5 207.5h-5.5" stroke="#99a1aa" fill="none"/>
<text x="399.8" y="234.7" text-anchor="middle">-87.5</text>
<text x="443" y="234.7" text-anchor="middle">-67.5</text>
<text x="486.2" y="234.7" text-anchor="middle">-47.5</text>
<text x="529.4" y="234.7" text-anchor="middle">-27.5</text>
<text x="572.6" y="234.7" text-anchor="middle">-7.5</text>
<text x="615.8" y="234.7" text-anchor="middle">12.5</text>
<text x="659" y="234.7" text-anchor="middle">32.5</text>
<path d="M399.5 214.5v5.5M443.5 214.5v5.5M486.5 214.5v5.5M529.5 214.5v5.5M572.5 214.5v5.5M615.5 214.5v5.5M659.5 214.5v5.5" stroke="#99a1aa" fill="none"/>
<text transform="translate(358.2 119.5) rotate(-90)" text-anchor="middle" font-size="13.7">Percent</text>
<text x="535.6" y="253.4" text-anchor="middle" font-size="13.7" textLength="53.2" lengthAdjust="spacingAndGlyphs">Residual</text>
<g fill="#cbd7e9" stroke="#2c2c2c" stroke-width="1">
<rect x="524.5" y="206.8" width="11" height="0.2"/>
<rect x="535.5" y="206.7" width="11" height="0.3"/>
<rect x="546.5" y="206.3" width="10" height="0.7"/>
<rect x="556.5" y="204.2" width="11" height="2.8"/>
<rect x="567.5" y="189.8" width="11" height="17.2"/>
<rect x="578.5" y="57.7" width="11" height="149.3"/>
<rect x="589.5" y="61.1" width="11" height="145.9"/>
<rect x="600.5" y="185.3" width="10" height="21.7"/>
<rect x="610.5" y="205.5" width="11" height="1.5"/>
<rect x="621.5" y="206.6" width="11" height="0.4"/>
<rect x="632.5" y="206.8" width="11" height="0.2"/>
</g>
<path d="M394.4 207 417.2 207 440.1 207 462.9 207 485.7 207 508.6 207 531.4 207 554.2 207 556.4 206.9 557.1 206.8 557.8 206.8 558.6 206.7 559.3 206.6 560 206.5 560.7 206.3 561.4 206.1 562.2 205.8 562.9 205.5 563.6 205 564.3 204.5 565 203.8 565.8 202.9 566.5 201.8 567.2 200.6 567.9 199 568.6 197.2 569.4 195 570.1 192.5 570.8 189.6 571.5 186.2 572.2 182.3 573 177.9 573.7 173 574.4 167.5 575.1 161.5 575.8 154.9 576.6 147.8 577.3 140.2 578 132.1 578.7 123.7 579.4 115.1 580.2 106.2 580.9 97.3 581.6 88.4 582.3 79.7 583 71.4 583.8 63.5 584.5 56.3 585.2 49.9 585.9 44.3 586.6 39.7 587.4 36.3 588.1 34 588.8 32.9 589.5 33.1 590.2 34.5 591 37.1 591.7 40.9 592.4 45.8 593.1 51.6 593.8 58.3 594.6 65.7 595.3 73.7 596 82.1 596.7 90.9 597.4 99.8 598.2 108.7 598.9 117.5 599.6 126.1 600.3 134.4 601 142.3 601.8 149.8 602.5 156.8 603.2 163.2 603.9 169.1 604.6 174.4 605.4 179.2 606.1 183.4 606.8 187.2 607.5 190.4 608.2 193.3 609 195.7 609.7 197.8 610.4 199.5 611.1 200.9 611.8 202.2 612.6 203.2 613.3 204 614 204.6 614.7 205.2 615.4 205.6 616.2 205.9 616.9 206.2 617.6 206.4 618.3 206.5 619 206.6 619.8 206.7 620.5 206.8 621.2 206.9 623.4 206.9 633.7 207 644.1 207 654.5 207 664.8 207 675.2 207" fill="none" stroke="#5f7dae" stroke-width="1.8" stroke-linejoin="round"/>
<rect x="48.5" y="275.5" width="286.0" height="187.0" fill="#fff" stroke="#99a1aa" stroke-width="1"/>
<text x="37.6" y="305.1" text-anchor="end">25</text>
<text x="37.6" y="338.9" text-anchor="end">0</text>
<text x="37.6" y="372.7" text-anchor="end">-25</text>
<text x="37.6" y="406.5" text-anchor="end">-50</text>
<text x="37.6" y="440.3" text-anchor="end">-75</text>
<path d="M48.5 300.5h-5.5M48.5 334.5h-5.5M48.5 368.5h-5.5M48.5 402.5h-5.5M48.5 436.5h-5.5" stroke="#99a1aa" fill="none"/>
<text x="59.2" y="482.7" text-anchor="middle">-4</text>
<text x="124.8" y="482.7" text-anchor="middle">-2</text>
<text x="190.4" y="482.7" text-anchor="middle">0</text>
<text x="256" y="482.7" text-anchor="middle">2</text>
<text x="321.6" y="482.7" text-anchor="middle">4</text>
<path d="M59.5 462.5v5.5M124.5 462.5v5.5M190.5 462.5v5.5M256.5 462.5v5.5M321.5 462.5v5.5" stroke="#99a1aa" fill="none"/>
<text transform="translate(11.5 368.2) rotate(-90)" text-anchor="middle" font-size="13.7" textLength="53.2" lengthAdjust="spacingAndGlyphs">Residual</text>
<text x="190.5" y="501.6" text-anchor="middle" font-size="13.7">Quantile</text>
<path d="M48.5 357.7L334.5 311.2" stroke="#b9bdc1" stroke-width="1.3" fill="none"/>
<path d="M81.8 360.4 83.6 360.1 85.4 359.6 87.2 359.2 89 358.6 90.7 358 92.5 357.4 94.3 356.6 96.1 355.8 97.9 354.9 99.6 354 101.4 353.2 103.2 352.4 105 351.5 106.8 350.7 108.5 349.9 110.3 349.1 112.1 348.3 113.9 347.6 115.7 346.9 117.4 346.3 119.2 345.6 121 345 122.8 344.5 124.6 343.9 126.3 343.4 128.1 342.9 129.9 342.4 131.7 341.9 133.5 341.4 135.2 341 137 340.6 138.8 340.2 140.6 339.9 142.4 339.6 144.2 339.4 145.9 339.1 147.7 338.9 149.5 338.7 151.3 338.5 153.1 338.3 154.8 338.1 156.6 337.9 158.4 337.8 160.2 337.6 162 337.5 163.7 337.3 165.5 337.2 167.3 337 169.1 336.9 170.9 336.8 172.6 336.6 174.4 336.5 176.2 336.3 178 336.1 179.8 335.9 181.5 335.7 183.3 335.5 185.1 335.3 186.9 335.1 188.7 334.8 190.4 334.6 192.2 334.3 194 334.1 195.8 333.8 197.6 333.5 199.3 333.2 201.1 332.9 202.9 332.6 204.7 332.3 206.5 332 208.3 331.7 210 331.4 211.8 331.2 213.6 330.9 215.4 330.6 217.2 330.4 218.9 330.1 220.7 329.8 222.5 329.5 224.3 329.3 226.1 329 227.8 328.7 229.6 328.4 231.4 328.1 233.2 327.8 235 327.5 236.7 327.2 238.5 326.8 240.3 326.5 242.1 326.2 243.9 325.8 245.6 325.5 247.4 325.2 249.2 324.8 251 324.5 252.8 324.2 254.5 323.8 256.3 323.5 258.1 323.2 259.9 322.8 261.7 322.5 263.5 322.1 265.2 321.8 267 321.4 268.8 321 270.6 320.6 272.4 320.3 274.1 319.9 275.9 319.4 277.7 318.5 279.5 317.4 281.3 316.4 283 315.3 284.8 314.1 286.6 312.9 288.4 311.7 290.2 310.6 291.9 309.4 293.7 308.2" fill="none" stroke="#0d3a9c" stroke-width="5.6" stroke-linecap="round" stroke-linejoin="round"/>
<g fill="none" stroke="#0d3a9c" stroke-width="1.1">
<circle cx="79.2" cy="367.6" r="2.3"/>
<circle cx="74.9" cy="437.4" r="2.3"/>
<circle cx="67.4" cy="454.1" r="2.3"/>
<circle cx="296" cy="305.8" r="2.3"/>
<circle cx="299.3" cy="303" r="2.3"/>
<circle cx="302.9" cy="299.4" r="2.3"/>
<circle cx="307.2" cy="296.1" r="2.3"/>
<circle cx="314.7" cy="284" r="2.3"/>
<circle cx="81.8" cy="360.4" r="2.3"/>
<circle cx="84.1" cy="360" r="2.3"/>
<circle cx="86.4" cy="359.5" r="2.3"/>
<circle cx="88.7" cy="358.8" r="2.3"/>
<circle cx="290.4" cy="310.3" r="2.3"/>
<circle cx="292.7" cy="308.8" r="2.3"/>
</g>
<rect x="434.5" y="275.5" width="182" height="212.5" fill="#fff" stroke="#cfcfcf"/>
<text x="525" y="286.8" text-anchor="middle">Residual Statistics</text>
<text x="525" y="410.4" text-anchor="middle">Fit Statistics</text>
<text x="440" y="307" textLength="71.2" lengthAdjust="spacingAndGlyphs">Observations</text><text x="609.3" y="307" text-anchor="end">7621</text>
<text x="440" y="324.5" textLength="44.2" lengthAdjust="spacingAndGlyphs">Minimum</text><text x="609.3" y="324.5" text-anchor="end">-87.82</text>
<text x="440" y="342">Mean</text><text x="609.3" y="342" text-anchor="end">-1E-12</text>
<text x="440" y="359.5" textLength="48.6" lengthAdjust="spacingAndGlyphs">Maximum</text><text x="609.3" y="359.5" text-anchor="end">37.424</text>
<text x="440" y="377.2">Std Dev</text><text x="609.3" y="377.2" text-anchor="end">3.9404</text>
<text x="440" y="430">Objective</text><text x="609.3" y="430" text-anchor="end">47366</text>
<text x="440.6" y="447.6" textLength="17.6" lengthAdjust="spacingAndGlyphs">AIC</text><text x="609.3" y="447.6" text-anchor="end">47372</text>
<text x="438.4" y="465.2" textLength="25.4" lengthAdjust="spacingAndGlyphs">AICC</text><text x="609.3" y="465.2" text-anchor="end">47372</text>
<text x="438" y="482.8" textLength="17.2" lengthAdjust="spacingAndGlyphs">BIC</text><text x="609.3" y="482.8" text-anchor="end">47366</text>
</g>
</svg>
</body></html>
